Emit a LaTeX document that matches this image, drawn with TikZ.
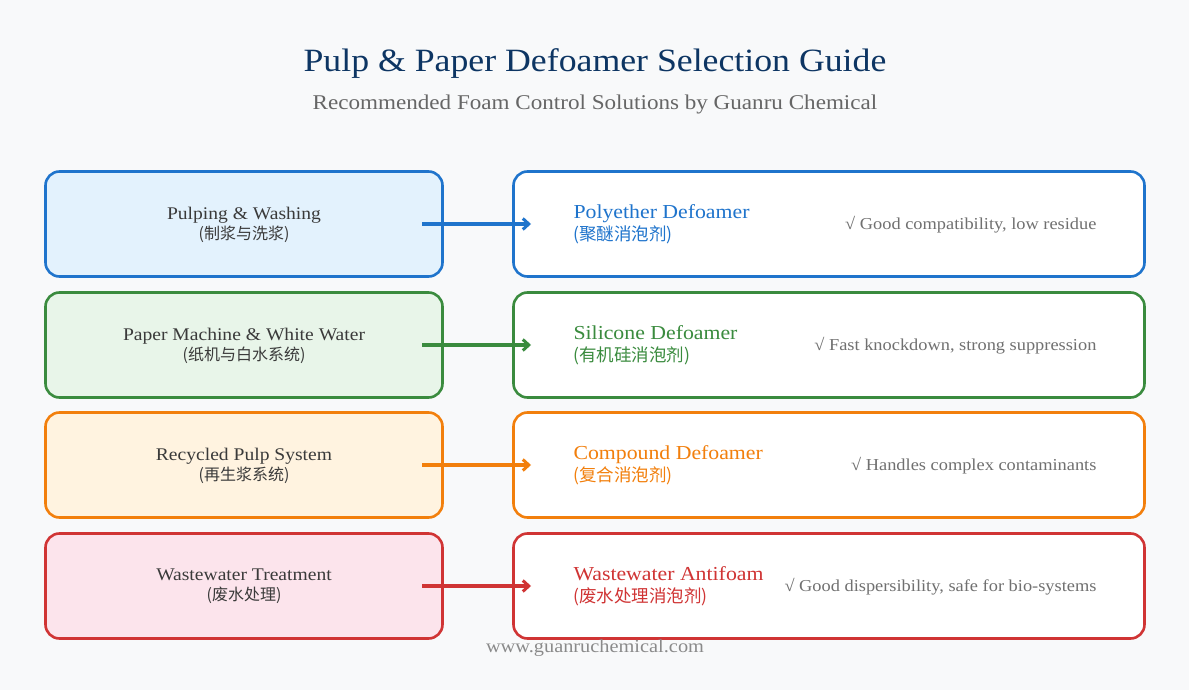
\documentclass[tikz,border=0pt]{standalone}
\usepackage{fontspec}
\setmainfont{Liberation Serif}[FakeStretch=1.1]
\newfontfamily\cjk{Noto Sans CJK SC}
\usetikzlibrary{arrows.meta}
\definecolor{bg}{HTML}{F8F9FA}
\definecolor{ttl}{HTML}{0D3563}
\definecolor{sub}{HTML}{666666}
\definecolor{txt}{HTML}{3A3A3A}
\definecolor{note}{HTML}{707070}
\definecolor{foot}{HTML}{8A8A8A}
\definecolor{cA}{HTML}{1F74CC}\definecolor{fA}{HTML}{E3F2FD}
\definecolor{cB}{HTML}{3A8B3E}\definecolor{fB}{HTML}{E8F5E9}
\definecolor{cC}{HTML}{F27F0C}\definecolor{fC}{HTML}{FFF3E0}
\definecolor{cD}{HTML}{D03434}\definecolor{fD}{HTML}{FCE4EC}
\begin{document}
\begin{tikzpicture}[x=1pt,y=-1pt,
  stagebox/.style={draw=#1,line width=2.6pt,rounded corners=14pt,minimum width=397pt,minimum height=105pt,inner sep=0pt},
  prodbox/.style={draw=#1,fill=white,line width=2.6pt,rounded corners=14pt,minimum width=631pt,minimum height=105pt,inner sep=0pt},
  stagetxt/.style={text=txt,align=center,font=\fontsize{17.8}{20}\selectfont},
  prodtxt/.style={text=#1,align=left,anchor=west,font=\fontsize{19.8}{23}\selectfont},
  notetxt/.style={text=note,anchor=east,font=\fontsize{16.7}{19}\selectfont},
  link/.style={draw=#1,line width=3.5pt,-{Straight Barb[length=6pt,width=11pt,line width=3pt]}}]
\fill[bg] (0,0) rectangle (1189,690);
\useasboundingbox (0,0) rectangle (1189,690);
\node[text=ttl,font=\fontsize{32.5}{40}\selectfont] (title) at (595,64) {Pulp \& Paper Defoamer Selection Guide};
\node[text=sub,font=\fontsize{21}{24}\selectfont] (subtitle) at (595,104) {Recommended Foam Control Solutions by Guanru Chemical};
% rows
\foreach \i/\y/\c/\f/\sa/\sb/\pa/\pb/\nt in {
  1/224/cA/fA/{Pulping \& Washing}/{(制浆与洗浆)}/{Polyether Defoamer}/{(聚醚消泡剂)}/{√ Good compatibility, low residue},
  2/345/cB/fB/{Paper Machine \& White Water}/{(纸机与白水系统)}/{Silicone Defoamer}/{(有机硅消泡剂)}/{√ Fast knockdown, strong suppression},
  3/465/cC/fC/{Recycled Pulp System}/{(再生浆系统)}/{Compound Defoamer}/{(复合消泡剂)}/{√ Handles complex contaminants},
  4/586/cD/fD/{Wastewater Treatment}/{(废水处理)}/{Wastewater Antifoam}/{(废水处理消泡剂)}/{√ Good dispersibility, safe for bio-systems}}{
  \node[stagebox=\c,fill=\f] (s\i) at (244,\y) {};
  \node[prodbox=\c] (p\i) at (829,\y) {};
  \node[stagetxt] (st\i) at (244,\y+0.5) {\sa\\[0pt]{\cjk\fontsize{16}{18}\selectfont \sb}};
  \node[prodtxt=\c] (pt\i) at (570,\y) {\pa\\[-1pt]{\cjk\fontsize{17.5}{19}\selectfont \pb}};
  \node[notetxt] (nt\i) at (1100,\y+1) {\nt};
  \coordinate (a\i) at (422,\y);
  \draw[link=\c] (a\i) -- (p\i.west -| 531,0);
}
\node[text=foot,font=\fontsize{18.5}{20}\selectfont] (footer) at (595,648) {www.guanruchemical.com};
\end{tikzpicture}
\end{document}
